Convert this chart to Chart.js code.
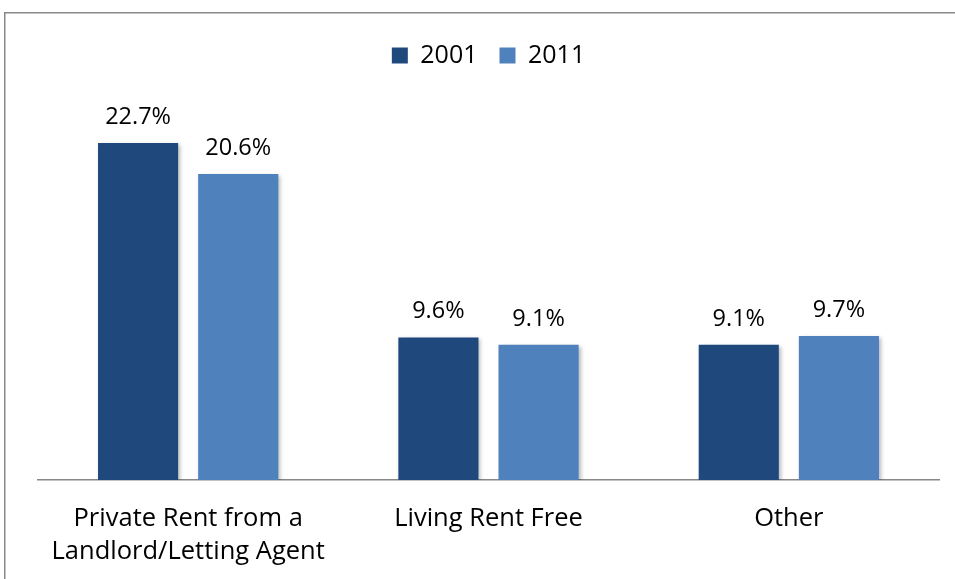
<!DOCTYPE html>
<html>
<head>
<meta charset="utf-8">
<script src="https://cdn.jsdelivr.net/npm/chart.js@4/dist/chart.umd.min.js"></script>
<style>
  html, body { margin: 0; padding: 0; background: #ffffff; }
  #wrap { position: relative; width: 955px; height: 579px; }
</style>
</head>
<body>
<div id="wrap"><canvas id="c" width="955" height="579"></canvas></div>
<script>
// Tenure shares, 2001 vs 2011
const categories = [
  ['Private Rent from a', 'Landlord/Letting Agent'],
  'Living Rent Free',
  'Other'
];
const seriesNames = ['2001', '2011'];
const values2001 = [22.7, 9.6, 9.1];
const values2011 = [20.6, 9.1, 9.7];
const seriesColors = ['#1F497D', '#4F81BD'];

const FONT = '"Open Sans", "Liberation Sans", sans-serif';

// Light frame along the top and left edges
const framePlugin = {
  id: 'frame',
  beforeDraw(chart) {
    const ctx = chart.ctx;
    ctx.save();
    ctx.strokeStyle = '#888888';
    ctx.lineWidth = 1.5;
    ctx.beginPath();
    ctx.moveTo(4.75, 579);
    ctx.lineTo(4.75, 12.75);
    ctx.lineTo(955, 12.75);
    ctx.stroke();
    ctx.restore();
  }
};

// Soft drop shadow under the bars
const shadowPlugin = {
  id: 'barShadow',
  beforeDatasetDraw(chart) {
    const ctx = chart.ctx;
    ctx.save();
    ctx.shadowColor = 'rgba(0,0,0,0.28)';
    ctx.shadowBlur = 4;
    ctx.shadowOffsetX = 2;
    ctx.shadowOffsetY = 2;
  },
  afterDatasetDraw(chart) {
    chart.ctx.restore();
  }
};

// Percentage labels above each bar
const valueLabels = {
  id: 'valueLabels',
  afterDatasetsDraw(chart) {
    const ctx = chart.ctx;
    ctx.save();
    ctx.font = '23.5px ' + FONT;
    ctx.fillStyle = '#000000';
    ctx.textAlign = 'center';
    ctx.textBaseline = 'alphabetic';
    chart.data.datasets.forEach((ds, i) => {
      const meta = chart.getDatasetMeta(i);
      meta.data.forEach((bar, j) => {
        ctx.fillText(ds.data[j].toFixed(1) + '%', bar.x, bar.y - 19);
      });
    });
    ctx.restore();
  }
};

new Chart(document.getElementById('c'), {
  type: 'bar',
  data: {
    labels: categories,
    datasets: [
      { label: seriesNames[0], data: values2001, backgroundColor: seriesColors[0] },
      { label: seriesNames[1], data: values2011, backgroundColor: seriesColors[1] }
    ]
  },
  options: {
    responsive: false,
    animation: false,
    devicePixelRatio: 1,
    layout: { padding: { top: 21, left: 38, right: 16, bottom: 0 } },
    datasets: {
      bar: { categoryPercentage: 0.667, barPercentage: 0.8 }
    },
    plugins: {
      legend: {
        position: 'top',
        labels: {
          boxWidth: 16,
          boxHeight: 16,
          padding: 22,
          color: '#000000',
          font: { family: FONT, size: 25 }
        }
      },
      tooltip: { enabled: false }
    },
    scales: {
      x: {
        grid: { display: false, drawTicks: false },
        border: { display: true, color: '#888888', width: 1.5 },
        ticks: {
          color: '#000000',
          font: { family: FONT, size: 25.5, lineHeight: 1.294 },
          padding: 22,
          maxRotation: 0,
          autoSkip: false
        },
        afterFit(scale) { scale.height = 99; }
      },
      y: {
        display: false,
        min: 0,
        max: 27.07
      }
    }
  },
  plugins: [framePlugin, shadowPlugin, valueLabels]
});
</script>
</body>
</html>
